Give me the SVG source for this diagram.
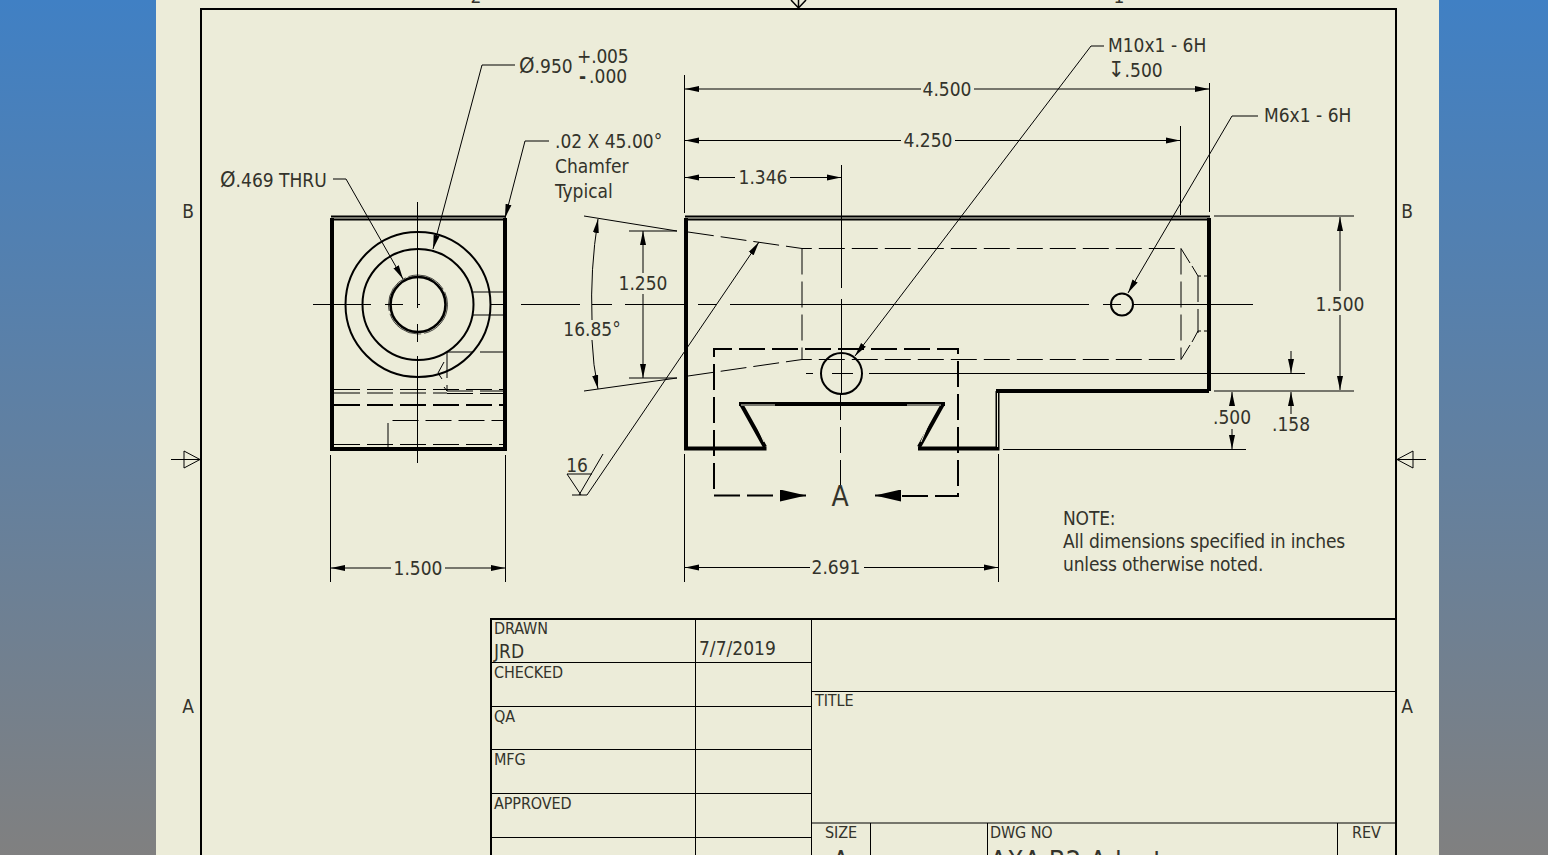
<svg xmlns="http://www.w3.org/2000/svg" width="1548" height="855" viewBox="0 0 1548 855">
<style>
text{font-family:"DejaVu Sans Condensed","DejaVu Sans",Tahoma,sans-serif;fill:#33332b;font-size:19px}
.c{text-anchor:middle}
.s{font-size:16px;letter-spacing:-.1px}
.o{font-size:22px}
.n{letter-spacing:-.17px}
.big{font-size:27px;letter-spacing:.4px}
.l{fill:none;stroke:#000;stroke-width:1}
.b{fill:none;stroke:#000;stroke-width:2}
.h{fill:none;stroke:#000;stroke-width:4}
.m{fill:none;stroke:#000;stroke-width:2.6}
.d{fill:none;stroke:#000;stroke-width:1;stroke-dasharray:26 7}
.dm{fill:none;stroke:#000;stroke-width:2;stroke-dasharray:26 7}
.g{fill:none;stroke:#ececd9;stroke-width:1}
</style>
<defs>
<linearGradient id="bg" x1="0" y1="0" x2="0" y2="1"><stop offset="0" stop-color="#4080c4"/><stop offset="1" stop-color="#808080"/></linearGradient>
<marker id="a" viewBox="0 0 14 8" refX="14" refY="4" markerWidth="14" markerHeight="8" markerUnits="userSpaceOnUse" orient="auto-start-reverse"><path d="M0 1L14 4L0 7Z" fill="#000"/></marker>
<marker id="big" viewBox="0 0 26 12" refX="26" refY="6" markerWidth="26" markerHeight="12" markerUnits="userSpaceOnUse" orient="auto"><path d="M0 0L26 6L0 12Z" fill="#000"/></marker>
</defs>
<rect width="1548" height="855" fill="url(#bg)"/>
<rect x="156" y="-2" width="1283" height="860" fill="#ececd9"/>
<g id="sheet-border">
<rect x="201" y="9" width="1195" height="850" class="b"/>
<path class="l" d="M171 459.500H201M1396 459.500H1426"/>
<path class="l" d="M184 451V468L200 459.500ZM1413 451V468L1397 459.500Z"/>
<path d="M791 0L798.500 8L806 0M798.500 0V8" fill="none" stroke="#000" stroke-width="1.500"/>
<text x="476" y="3" class="c">2</text><text x="1119" y="3" class="c">1</text>
<text x="188" y="218" class="c">B</text><text x="1407" y="218" class="c">B</text>
<text x="188" y="713" class="c">A</text><text x="1407" y="713" class="c">A</text>
</g>
<g id="view-left">
<path class="h" d="M332 449V218M505 218V449M330 449H507"/>
<path class="b" d="M331 216.500H506M331 219.500H506"/>
<circle class="b" cx="418" cy="304.500" r="72.500"/>
<circle class="b" cx="418" cy="304.500" r="55.500"/>
<circle class="m" cx="418" cy="304.500" r="27.500"/>
<circle cx="418" cy="304.500" r="29.500" fill="none" stroke="#000" stroke-width=".7" stroke-dasharray="40 3"/>
<path class="l" d="M417.500 202V308M417.500 324V342M417.500 356V463M313 304.500H371M385 304.500H403M417 304.500H420M491 304.500H504M521 304.500H580M592 304.500H612M625 304.500H686M698 304.500H716M730 304.500H1089M1103 304.500H1121M1133 304.500H1253"/>
<path class="l" d="M473 292H503M473 315H503"/>
<path class="d" d="M447 352H503M447 352V391M447 391H503M447 393.500H503"/>
<path class="l" d="M444 362L438 373L442 379M444 387L447 391"/>
<path class="d" d="M334 389.500H503M334 393H447"/>
<path class="dm" d="M334 405H503"/>
<path class="d" d="M388 449V420.500H503M334 444.500H503"/>
</g>
<g id="view-main">
<path class="h" d="M686 448.500V218M1209 218V391M996 391H1209M997.500 391V449M684 448.500H766.500M918 448.500H999.500"/>
<path class="b" d="M685 216.500H1210M685 219.500H1210"/>
<path class="h" d="M739 404H945M741 404L765 447M943 404L919 447"/>
<path class="g" d="M741 405H775M907 405H941M997.500 393V447M749 408L764 442M935 408L921 442"/>
<circle class="b" cx="841.500" cy="373.500" r="20.500"/>
<circle class="b" cx="1122" cy="304.500" r="11"/>
<path class="l" d="M841.500 165V288M841.500 299V394M806 373.500H813M832 373.500H853M869 373.500H1305"/>
<path class="d" d="M840.500 394V490"/>
<path class="d" d="M688 232L802 248.500H1181"/>
<path class="d" d="M688 376L802 359.500H1181"/>
<path class="d" d="M802 248.500V359.500M1181 248.500V359.500M1198 276V333"/>
<path class="l" d="M1181 248.500L1190 263M1192 266L1198 276H1201M1204 276H1208M1181 359.500L1190 345M1192 342L1198 331H1201M1204 331H1208"/>
<path class="dm" d="M714 489V349H958V496H901M714 495.500H780"/>
<path d="M780 495.500H806" class="b" marker-end="url(#big)"/>
<path d="M901 495.500H875" class="b" marker-end="url(#big)"/>
</g>
<g id="connectors">
<path class="l" d="M684.500 75V213M684.500 454V582M1180.500 126V215M1209.500 83V212M330.500 455V582M505.500 455V582M998.500 454V582M1214 216H1354M1214 391H1354M1003 449.500H1246"/>
<path class="l" marker-start="url(#a)" marker-end="url(#a)" d="M685 89H1209" stroke-dasharray="236 53 235"/>
<path class="l" marker-start="url(#a)" marker-end="url(#a)" d="M685 140.500H1180" stroke-dasharray="216 54 225"/>
<path class="l" marker-start="url(#a)" marker-end="url(#a)" d="M685 177.500H841" stroke-dasharray="50 55 51"/>
<path class="l" marker-start="url(#a)" marker-end="url(#a)" d="M331 568H505" stroke-dasharray="60 54 60"/>
<path class="l" marker-start="url(#a)" marker-end="url(#a)" d="M685 567.500H998" stroke-dasharray="125 54 134"/>
<path class="l" marker-start="url(#a)" marker-end="url(#a)" d="M1340 217V390" stroke-dasharray="74 24 75"/>
<path class="l" marker-start="url(#a)" marker-end="url(#a)" d="M643 231V378" stroke-dasharray="42 21 84"/>
<path class="l" marker-start="url(#a)" marker-end="url(#a)" d="M1232 392V449" stroke-dasharray="13 24 20"/>
<path class="l" marker-end="url(#a)" d="M1291 351V373"/>
<path class="l" marker-end="url(#a)" d="M1291 414V392"/>
<path class="l" d="M629 231H677M629 378H677M584 216L677 231M584 391L677 378"/>
<path class="l" marker-end="url(#a)" d="M592 320Q590 270 598 219"/>
<path class="l" marker-end="url(#a)" d="M592 340Q593 365 598 389"/>
<path class="l" marker-end="url(#a)" d="M1258 116H1232L1128 293"/>
<path class="l" marker-end="url(#a)" d="M1104 46H1091L855 356"/>
<path class="l" marker-end="url(#a)" d="M549 141H525L505 218"/>
<path class="l" marker-end="url(#a)" d="M515 65H482L433 249"/>
<path class="l" d="M333 179H346"/><path class="l" marker-end="url(#a)" d="M346 179L403 279"/>
<path class="l" marker-end="url(#a)" d="M587 495L759 242"/>
<path class="l" d="M567 474H592M567 474L581 495M572 495H587M579 495L603 454"/>
</g>
<g id="labels">
<text x="519" y="73"><tspan class="o">Ø</tspan>.950</text><text x="577" y="63" class="n">+.005</text><text x="579" y="83"><tspan font-weight="bold">-</tspan><tspan dx="3">.000</tspan></text>
<text x="220" y="187"><tspan class="o">Ø</tspan>.469 THRU</text>
<text x="555" y="148">.02 X 45.00°</text><text x="555" y="173">Chamfer</text><text x="555" y="198">Typical</text>
<text x="1108" y="52">M10x1 - 6H</text><text x="1108" y="77"><tspan class="o">↧</tspan>.500</text>
<text x="1264" y="122">M6x1 - 6H</text>
<text x="947" y="96" class="c">4.500</text><text x="928" y="147" class="c">4.250</text><text x="763" y="184" class="c">1.346</text>
<text x="643" y="290" class="c">1.250</text><text x="592" y="336" class="c">16.85°</text><text x="1340" y="311" class="c">1.500</text>
<text x="1232" y="424" class="c">.500</text><text x="1291" y="431" class="c">.158</text>
<text x="577" y="472" class="c">16</text>
<text x="840" y="506" class="c" style="font-size:28px">A</text>
<text x="418" y="575" class="c">1.500</text><text x="836" y="574" class="c">2.691</text>
<text x="1063" y="525" class="n">NOTE:</text><text x="1063" y="548" class="n">All dimensions specified in inches</text><text x="1063" y="571" class="n">unless otherwise noted.</text>
</g>
<g id="title-block">
<path class="b" d="M491 855V619H1396"/>
<path class="l" d="M695.500 619V855M811.500 619V855M491 662.500H811M491 706.500H811M491 749.500H811M491 793.500H811M491 837.500H811M812 691.500H1396M812 823H1396M870.500 823V855M987.500 823V855M1337.500 823V855"/>
<text x="494" y="634" class="s">DRAWN</text><text x="494" y="658">JRD</text><text x="699" y="655">7/7/2019</text>
<text x="494" y="678" class="s">CHECKED</text><text x="494" y="722" class="s">QA</text><text x="494" y="765" class="s">MFG</text><text x="494" y="809" class="s">APPROVED</text>
<text x="815" y="706" class="s">TITLE</text><text x="825" y="838" class="s">SIZE</text><text x="990" y="838" class="s">DWG NO</text><text x="1352" y="838" class="s">REV</text>
<text x="841" y="870" class="c big">A</text><text x="990" y="870" class="big">AXA-B2 Adapter</text>
</g>
</svg>
